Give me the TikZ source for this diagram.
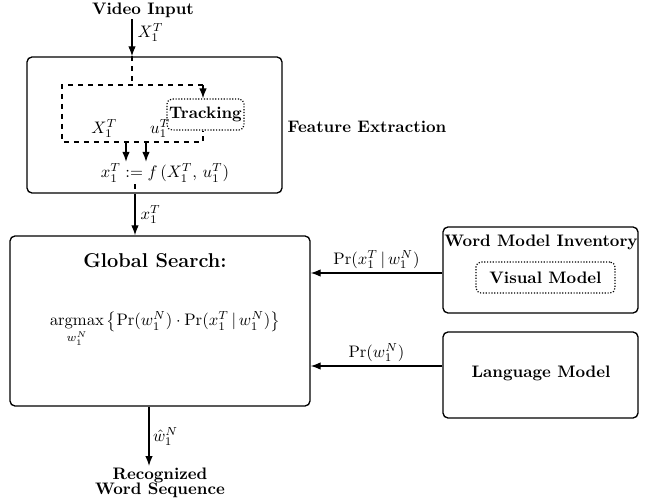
\documentclass[tikz,border=0pt]{standalone}
\usepackage{amsmath}
\usetikzlibrary{arrows.meta}
\begin{document}
\begin{tikzpicture}[x=0.6pt,y=-0.6pt,
  box/.style={draw,rounded corners=3pt,line width=0.8pt,inner sep=0pt},
  dotbox/.style={draw,densely dotted,rounded corners=3pt,line width=0.7pt,inner sep=0pt},
  arr/.style={line width=0.8pt,-{Latex[length=6pt,width=4.5pt]}},
  darr/.style={line width=0.8pt,dashed,-{Latex[length=6pt,width=4.5pt]}},
  dline/.style={line width=0.8pt,dashed},
  title/.style={font=\bfseries,inner sep=1pt},
  lbl/.style={inner sep=1pt}]
\useasboundingbox (0,0) rectangle (645,500);
% boxes
\node[box,minimum width=153pt,minimum height=81.6pt] (feat) at (154.5,125) {};
\node[dotbox,minimum width=46.2pt,minimum height=18.6pt] (track) at (205.5,114.5) {};
\node[title] at (track) {Tracking};
\node[box,minimum width=180pt,minimum height=102pt] (glob) at (160,321) {};
\node[box,minimum width=117pt,minimum height=51.6pt] (wmi) at (540.5,270) {};
\node[dotbox,minimum width=83.4pt,minimum height=18.6pt] (vis) at (545.5,277.5) {};
\node[box,minimum width=117pt,minimum height=51.6pt] (lm) at (540.5,375) {};
% texts
\node[title] (vin) at (143,10) {Video Input};
\node[title] (fe) at (367,127) {Feature Extraction};
\node[title,font=\large\bfseries] (gs) at (155,261) {Global Search:};
\node[lbl] (form) at (165,329) {$\displaystyle\operatorname*{argmax}_{w_1^N}\,\bigl\{\Pr(w_1^N)\cdot\Pr(x_1^T\,|\,w_1^N)\bigr\}$};
\node[title] (wmit) at (541,242) {Word Model Inventory};
\node[title] at (vis) {Visual Model};
\node[title] (lmt) at (541,373) {Language Model};
\node[title,align=center,anchor=north] (rws) at (160,466) {Recognized\\[-3pt]Word Sequence};
\node[lbl] (fx) at (165,173) {$x_1^T := f\,(X_1^T,\, u_1^T)$};
% coordinates
\coordinate (tl) at (62,85);
\coordinate (tm) at (132,85);
\coordinate (tr) at (203,85);
\coordinate (bl) at (62,142);
\coordinate (br) at (203,142);
\coordinate (ax) at (126,142);
\coordinate (au) at (146,142);
\coordinate (vx) at (132,0);
% connectors
\draw[arr] (vin.south -| vx) -- (feat.north -| vx) node[pos=0.35,right=2pt,lbl] {$X_1^T$};
\draw[dline] (feat.north -| vx) -- (tm);
\draw[dline] (tr) -- (tl) -- (bl) -- (br) -- (br |- track.south);
\draw[darr] (tr) -- (tr |- track.north);
\draw[arr] (ax) -- (ax |- fx.north) ;
\draw[arr] (au) -- (au |- fx.north);
\node[lbl,anchor=south east] at (119,140) {$X_1^T$};
\node[lbl,anchor=south west] at (148,140) {$u_1^T$};
\coordinate (fo) at (135,0);
\draw[dline] (fo |- fx.south) -- (fo |- feat.south);
\draw[arr] (fo |- feat.south) -- (fo |- glob.north) node[midway,right=2pt,lbl] {$x_1^T$};
\draw[arr] (wmi.west |- 0,273) -- (glob.east |- 0,273) node[midway,above=1pt,lbl] {$\Pr(x_1^T\,|\,w_1^N)$};
\draw[arr] (lm.west |- 0,366) -- (glob.east |- 0,366) node[midway,above=1pt,lbl] {$\Pr(w_1^N)$};
\coordinate (go) at (149,0);
\draw[arr] (go |- glob.south) -- (go |- rws.north) node[midway,right=1pt,lbl] {$\hat{w}_1^N$};
\end{tikzpicture}
\end{document}
